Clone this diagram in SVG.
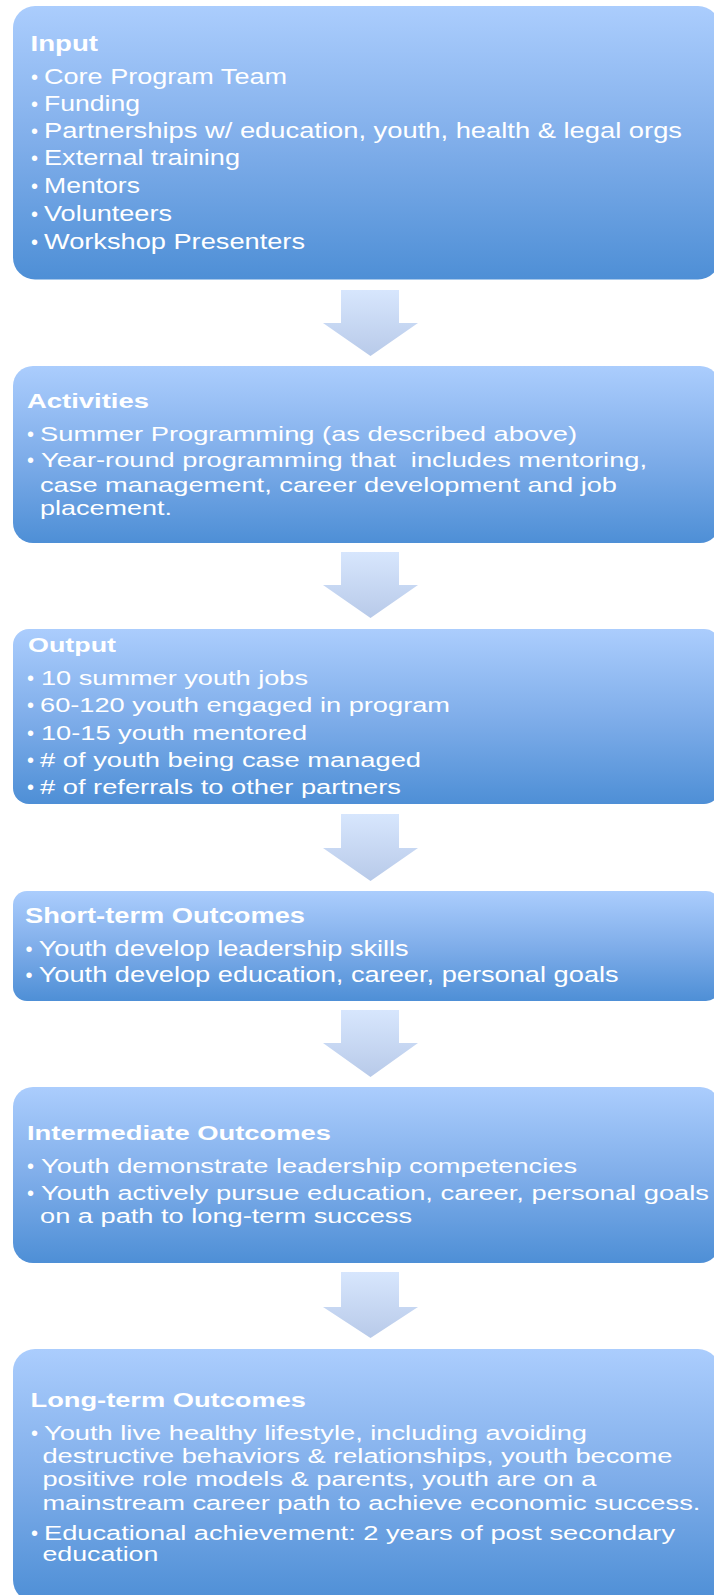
<svg xmlns="http://www.w3.org/2000/svg" width="714" height="1595" viewBox="0 0 714 1595">
<defs>
<linearGradient id="boxg" x1="0" y1="0" x2="0" y2="1">
<stop offset="0" stop-color="#abcdfd"/>
<stop offset="0.5" stop-color="#80aeea"/>
<stop offset="1" stop-color="#4e8fd6"/>
</linearGradient>
<linearGradient id="arrg" x1="0" y1="0" x2="0" y2="1">
<stop offset="0" stop-color="#d7e6fd"/>
<stop offset="1" stop-color="#b8cae9"/>
</linearGradient>
</defs>
<style>
.box{fill:url(#boxg);}
.arr{fill:url(#arrg);}
text{font-family:"Liberation Sans",Arial,sans-serif;fill:#ffffff;}
.h{font-weight:bold;}
.b{font-size:20px;}
</style>
<rect width="714" height="1595" fill="#ffffff"/>
<g id="connectors">
<polygon class="arr" points="341,290 399,290 399,323 418,323 370.5,356 323,323 341,323"/>
<polygon class="arr" points="341,552 399,552 399,585 418,585 370.5,618 323,585 341,585"/>
<polygon class="arr" points="341,814 399,814 399,848 418,848 370.5,881 323,848 341,848"/>
<polygon class="arr" points="341,1010 399,1010 399,1043 418,1043 370.5,1077 323,1043 341,1043"/>
<polygon class="arr" points="341,1272 399,1272 399,1307 418,1307 370.5,1338 323,1307 341,1307"/>
</g>
<g id="input" font-size="22">
<rect class="box" x="13" y="6" width="707" height="273.5" rx="22" ry="22"/>
<text class="h" x="30.5" y="50.7" textLength="67.5" lengthAdjust="spacingAndGlyphs">Input</text>
<text class="b" x="31" y="84">•</text>
<text x="44" y="84" textLength="243" lengthAdjust="spacingAndGlyphs">Core Program Team</text>
<text class="b" x="31" y="110.7">•</text>
<text x="44" y="110.7" textLength="96" lengthAdjust="spacingAndGlyphs">Funding</text>
<text class="b" x="31" y="138.3">•</text>
<text x="44" y="138.3" textLength="638" lengthAdjust="spacingAndGlyphs">Partnerships w/ education, youth, health &amp; legal orgs</text>
<text class="b" x="31" y="165">•</text>
<text x="44" y="165" textLength="196" lengthAdjust="spacingAndGlyphs">External training</text>
<text class="b" x="31" y="193.3">•</text>
<text x="44" y="193.3" textLength="96" lengthAdjust="spacingAndGlyphs">Mentors</text>
<text class="b" x="31" y="220.7">•</text>
<text x="44" y="220.7" textLength="128" lengthAdjust="spacingAndGlyphs">Volunteers</text>
<text class="b" x="31" y="249.3">•</text>
<text x="44" y="249.3" textLength="261" lengthAdjust="spacingAndGlyphs">Workshop Presenters</text>
</g>
<g id="activities" font-size="21">
<rect class="box" x="13" y="366" width="707" height="177" rx="20" ry="20"/>
<text class="h" x="27" y="407.7" font-size="20" textLength="122" lengthAdjust="spacingAndGlyphs">Activities</text>
<text class="b" x="27" y="440.7">•</text>
<text x="40" y="440.7" textLength="537" lengthAdjust="spacingAndGlyphs">Summer Programming (as described above)</text>
<text class="b" x="27" y="466.7">•</text>
<text x="41" y="466.7" xml:space="preserve" textLength="606" lengthAdjust="spacingAndGlyphs">Year-round programming that  includes mentoring,</text>
<text x="40" y="491.7" textLength="577" lengthAdjust="spacingAndGlyphs">case management, career development and job</text>
<text x="40" y="515" textLength="132" lengthAdjust="spacingAndGlyphs">placement.</text>
</g>
<g id="output" font-size="20">
<rect class="box" x="13" y="629" width="707" height="175" rx="16" ry="16"/>
<text class="h" x="28" y="651.7" textLength="88" lengthAdjust="spacingAndGlyphs">Output</text>
<text class="b" x="27" y="685">•</text>
<text x="41" y="685" textLength="267" lengthAdjust="spacingAndGlyphs">10 summer youth jobs</text>
<text class="b" x="27" y="712">•</text>
<text x="40" y="712" textLength="410" lengthAdjust="spacingAndGlyphs">60-120 youth engaged in program</text>
<text class="b" x="27" y="740">•</text>
<text x="41" y="740" textLength="266" lengthAdjust="spacingAndGlyphs">10-15 youth mentored</text>
<text class="b" x="27" y="766.7">•</text>
<text x="40" y="766.7" textLength="381" lengthAdjust="spacingAndGlyphs"># of youth being case managed</text>
<text class="b" x="27" y="794">•</text>
<text x="40" y="794" textLength="361" lengthAdjust="spacingAndGlyphs"># of referrals to other partners</text>
</g>
<g id="short-term" font-size="22">
<rect class="box" x="13" y="891" width="707" height="110" rx="14" ry="14"/>
<text class="h" x="25" y="923" textLength="280" lengthAdjust="spacingAndGlyphs">Short-term Outcomes</text>
<text class="b" x="25.5" y="955.7">•</text>
<text x="38.7" y="955.7" textLength="370" lengthAdjust="spacingAndGlyphs">Youth develop leadership skills</text>
<text class="b" x="25.5" y="982.3">•</text>
<text x="38.7" y="982.3" textLength="580" lengthAdjust="spacingAndGlyphs">Youth develop education, career, personal goals</text>
</g>
<g id="intermediate" font-size="20">
<rect class="box" x="13" y="1087" width="707" height="176" rx="20" ry="20"/>
<text class="h" x="27" y="1140" textLength="304" lengthAdjust="spacingAndGlyphs">Intermediate Outcomes</text>
<text class="b" x="27" y="1173">•</text>
<text x="41" y="1173" textLength="536" lengthAdjust="spacingAndGlyphs">Youth demonstrate leadership competencies</text>
<text class="b" x="27" y="1200">•</text>
<text x="41" y="1200" textLength="668" lengthAdjust="spacingAndGlyphs">Youth actively pursue education, career, personal goals</text>
<text x="40" y="1223" textLength="372" lengthAdjust="spacingAndGlyphs">on a path to long-term success</text>
</g>
<g id="long-term" font-size="20">
<rect class="box" x="13" y="1349" width="707" height="253" rx="22" ry="22"/>
<text class="h" x="30.5" y="1406.7" textLength="275.5" lengthAdjust="spacingAndGlyphs">Long-term Outcomes</text>
<text class="b" x="31" y="1440">•</text>
<text x="44" y="1440" textLength="543" lengthAdjust="spacingAndGlyphs">Youth live healthy lifestyle, including avoiding</text>
<text x="42.4" y="1463.3" textLength="630" lengthAdjust="spacingAndGlyphs">destructive behaviors &amp; relationships, youth become</text>
<text x="42.4" y="1486" textLength="554" lengthAdjust="spacingAndGlyphs">positive role models &amp; parents, youth are on a</text>
<text x="42.4" y="1510" textLength="658" lengthAdjust="spacingAndGlyphs">mainstream career path to achieve economic success.</text>
<text class="b" x="31" y="1540">•</text>
<text x="44" y="1540" textLength="631" lengthAdjust="spacingAndGlyphs">Educational achievement: 2 years of post secondary</text>
<text x="42.4" y="1561" textLength="116" lengthAdjust="spacingAndGlyphs">education</text>
</g>
</svg>
